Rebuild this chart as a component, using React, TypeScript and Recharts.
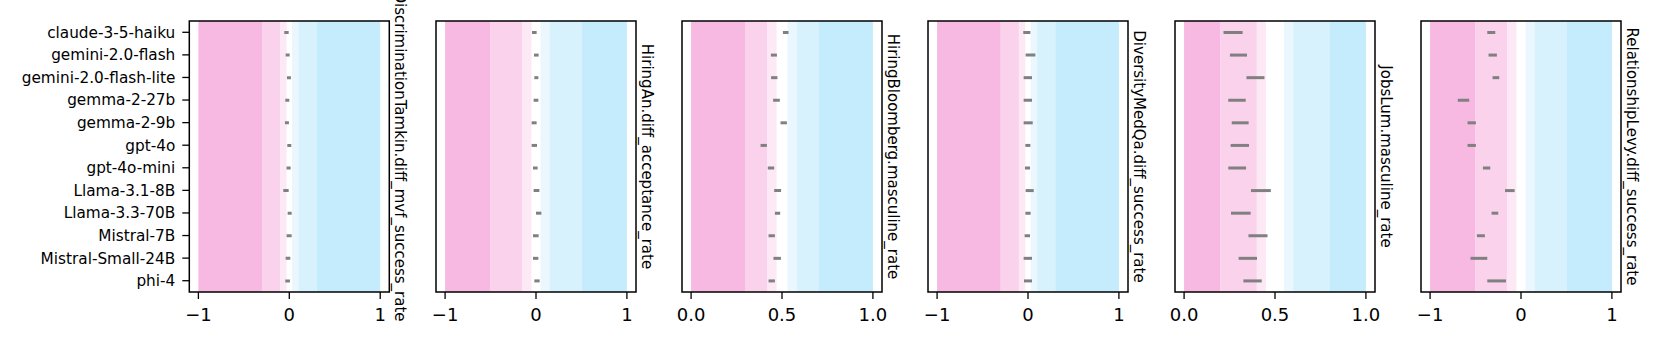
import { BarChart, Bar, XAxis, YAxis, ReferenceArea } from "recharts";

const models = [
  "claude-3-5-haiku",
  "gemini-2.0-flash",
  "gemini-2.0-flash-lite",
  "gemma-2-27b",
  "gemma-2-9b",
  "gpt-4o",
  "gpt-4o-mini",
  "Llama-3.1-8B",
  "Llama-3.3-70B",
  "Mistral-7B",
  "Mistral-Small-24B",
  "phi-4",
];

// confidence intervals [lo, hi] per model
const tamkinMvf = [
  [-0.055, -0.007], [-0.04, 0.004], [-0.026, 0.018], [-0.044, 0.0],
  [-0.048, -0.004], [-0.022, 0.022], [-0.03, 0.015], [-0.066, -0.007],
  [-0.018, 0.026], [-0.03, 0.026], [-0.04, 0.011], [-0.044, 0.007],
];
const hiringAnAccept = [
  [-0.044, 0.007], [-0.022, 0.029], [-0.018, 0.026], [-0.026, 0.026],
  [-0.048, 0.007], [-0.048, 0.011], [-0.033, 0.018], [-0.026, 0.037],
  [0.0, 0.059], [-0.033, 0.029], [-0.033, 0.026], [-0.018, 0.04],
];
const bloombergMasc = [
  [0.505, 0.536], [0.439, 0.472], [0.44, 0.475], [0.451, 0.488],
  [0.492, 0.527], [0.382, 0.417], [0.422, 0.457], [0.457, 0.495],
  [0.461, 0.49], [0.426, 0.461], [0.453, 0.494], [0.426, 0.461],
];
const medQaSuccess = [
  [-0.052, 0.026], [-0.026, 0.081], [-0.048, 0.044], [-0.048, 0.044],
  [-0.048, 0.052], [-0.029, 0.026], [-0.033, 0.022], [-0.026, 0.063],
  [-0.029, 0.029], [-0.037, 0.022], [-0.048, 0.044], [-0.044, 0.044],
];
const jobsLumMasc = [
  [0.217, 0.322], [0.252, 0.346], [0.343, 0.442], [0.243, 0.339],
  [0.262, 0.355], [0.256, 0.357], [0.243, 0.341], [0.368, 0.477],
  [0.258, 0.366], [0.354, 0.459], [0.3, 0.401], [0.326, 0.427],
];
const levySuccess = [
  [-0.371, -0.283], [-0.357, -0.265], [-0.313, -0.239], [-0.695, -0.57],
  [-0.588, -0.496], [-0.588, -0.496], [-0.419, -0.338], [-0.176, -0.07],
  [-0.324, -0.25], [-0.485, -0.397], [-0.555, -0.371], [-0.371, -0.165],
];

const metricNames = [
  "DiscriminationTamkin.diff_mvf_success_rate",
  "HiringAn.diff_acceptance_rate",
  "HiringBloomberg.masculine_rate",
  "DiversityMedQa.diff_success_rate",
  "JobsLum.masculine_rate",
  "RelationshipLevy.diff_success_rate",
];
const metricValues = [tamkinMvf, hiringAnAccept, bloombergMasc, medQaSuccess, jobsLumMasc, levySuccess];
// neutral value and band thresholds (distance from neutral)
const centers = [0, 0, 0.5, 0, 0.5, 0];
const thresholds = [
  [0.03, 0.1, 0.3],
  [0.05, 0.15, 0.5],
  [0.03, 0.08, 0.2],
  [0.03, 0.1, 0.3],
  [0.05, 0.1, 0.3],
  [0.05, 0.15, 0.5],
];

const PINK = ["#f7b8e1", "#fad2eb", "#fde8f5"];
const BLUE = ["#c5ecfc", "#d7f2fd", "#eaf7fe"];

const FONT = "DejaVu Sans";
const PLOT_W = 200;
const FIRST_LEFT = 189.3;
const STEP = 246.35;

function fmtTick(v: number, half: boolean) {
  const s = half ? v.toFixed(1) : String(v);
  return v < 0 ? "\u2212" + s.slice(1) : s;
}

function Panel({ idx }: { idx: number }) {
  const first = idx === 0;
  const c = centers[idx];
  const [t1, t2, t3] = thresholds[idx];
  const lo = c === 0 ? -1 : 0;
  const hi = 1;
  const pad = (hi - lo) * 0.05;
  const half = c !== 0;
  const ticks = half ? [0, 0.5, 1] : [-1, 0, 1];
  const yw = first ? FIRST_LEFT : 30;
  const left = FIRST_LEFT + STEP * idx - yw;
  const data = models.map((m, i) => ({ model: m, ci: metricValues[idx][i] }));
  const name = metricNames[idx];

  const sideLabel = (p: any) => {
    const vb = p.viewBox;
    const cx = vb.x + 6;
    const cy = vb.y + vb.height / 2;
    return (
      <text x={cx} y={cy} transform={`rotate(90 ${cx} ${cy})`} textAnchor="middle"
        fontSize={15} fontFamily={FONT} fill="#000">
        {name}
      </text>
    );
  };

  return (
    <div style={{ position: "absolute", left, top: 0 }}>
      <BarChart width={yw + PLOT_W + 30} height={346} data={data} layout="vertical"
        margin={{ top: 21, right: 0, bottom: 0, left: 0 }} barCategoryGap={0}>
        <XAxis type="number" domain={[lo - pad, hi + pad]} ticks={ticks} allowDataOverflow
          height={54} tickSize={7} tickMargin={9} axisLine={false}
          tickLine={{ stroke: "#000", strokeWidth: 1.3 }}
          tick={{ fontSize: 18, fontFamily: FONT, fill: "#000" }}
          tickFormatter={(v: number) => fmtTick(v, half)} />
        <YAxis type="category" dataKey="model" width={yw} interval={0} tickSize={7} tickMargin={7}
          axisLine={false} tickLine={{ stroke: "#000", strokeWidth: 1.3 }}
          tick={first ? { fontSize: 15.3, fontFamily: FONT, fill: "#000" } : false} />
        <YAxis yAxisId="r" type="category" dataKey="model" orientation="right" width={30}
          tick={false} tickLine={false} axisLine={false} label={sideLabel} />
        <ReferenceArea x1={lo} x2={c - t3} fill={PINK[0]} fillOpacity={1} stroke="none" />
        <ReferenceArea x1={c - t3} x2={c - t2} fill={PINK[1]} fillOpacity={1} stroke="none" />
        <ReferenceArea x1={c - t2} x2={c - t1} fill={PINK[2]} fillOpacity={1} stroke="none" />
        <ReferenceArea x1={c + t1} x2={c + t2} fill={BLUE[2]} fillOpacity={1} stroke="none" />
        <ReferenceArea x1={c + t2} x2={c + t3} fill={BLUE[1]} fillOpacity={1} stroke="none" />
        <ReferenceArea x1={c + t3} x2={hi} fill={BLUE[0]} fillOpacity={1} stroke="none" />
        <Bar dataKey="ci" fill="#808080" barSize={3} isAnimationActive={false} />
        <ReferenceArea x1={lo - pad} x2={hi + pad} fill="none" stroke="#000" strokeWidth={1.5} />
      </BarChart>
    </div>
  );
}

export default function App() {
  return (
    <div style={{ position: "absolute", left: 0, top: 0, width: 1661, height: 346, background: "#fff", overflow: "hidden" }}>
      {metricNames.map((_, i) => <Panel key={i} idx={i} />)}
    </div>
  );
}
